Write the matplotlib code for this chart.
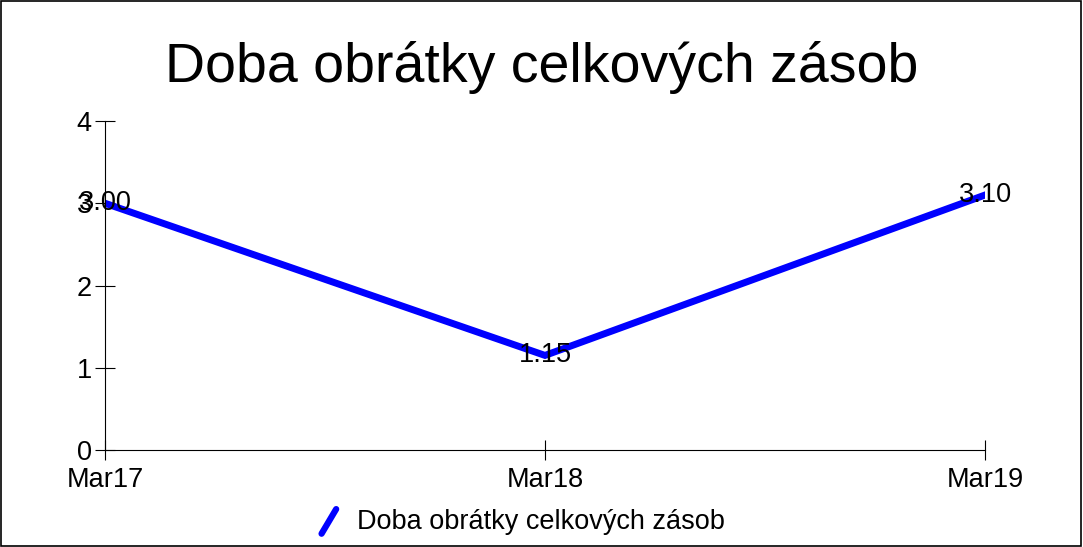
import matplotlib
matplotlib.use('Agg')
import matplotlib.pyplot as plt
from matplotlib.lines import Line2D
from matplotlib.legend_handler import HandlerBase

plt.rcParams['font.family'] = ['Liberation Sans', 'DejaVu Sans']

# data
categories = ['Mar17', 'Mar18', 'Mar19']
values = [3.00, 1.15, 3.10]
series_name = 'Doba obrátky celkových zásob'
yticks = [0, 1, 2, 3, 4]


class DiagHandler(HandlerBase):
    # diagonal line as legend symbol
    def create_artists(self, legend, orig_handle, xdescent, ydescent,
                       width, height, fontsize, trans):
        l = Line2D([width * 0.2, width * 0.8], [-height * 0.25, height * 1.05],
                   color=orig_handle.get_color(), lw=4.5, solid_capstyle='round',
                   transform=trans)
        return [l]


fig = plt.figure(figsize=(10.83, 5.47), dpi=100)
ax = fig.add_axes([105 / 1083, 1 - 450 / 547, 880 / 1083, 329 / 547])

x = list(range(len(categories)))
line, = ax.plot(x, values, color='#0000ff', lw=5, solid_joinstyle='miter')
for xi, v in zip(x, values):
    ax.text(xi, v, '%.2f' % v, ha='center', va='center', fontsize=19.5, color='black')

ax.set_xlim(0, len(categories) - 1)
ax.set_ylim(0, 4)
ax.set_xticks(x)
ax.set_xticklabels(categories, fontsize=19.5)
ax.set_yticks(yticks)
ax.set_yticklabels([str(t) for t in yticks], fontsize=19.5)
ax.tick_params(direction='inout', length=15, width=0.8)
ax.tick_params(axis='x', pad=5)
ax.tick_params(axis='y', pad=2)
for s in ['top', 'right']:
    ax.spines[s].set_visible(False)
ax.patch.set_alpha(0)

fig.text(0.5, 1 - 68 / 547, 'Doba obrátky celkových zásob', ha='center', va='center', fontsize=40)

fig.legend([line], [series_name], handler_map={Line2D: DiagHandler()},
           loc='center', bbox_to_anchor=(0.481, 1 - 522 / 547), frameon=False,
           fontsize=19.5, handlelength=0.9, handletextpad=0.6)

fig.patches.append(plt.Rectangle((0.0005, 0.001), 0.998, 0.997, transform=fig.transFigure,
                                 fill=False, edgecolor='black', lw=1.2))

fig.savefig('out.png', dpi=100)
